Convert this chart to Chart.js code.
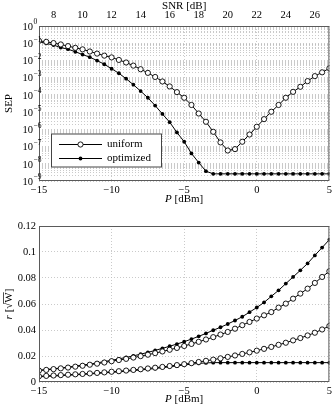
<!DOCTYPE html>
<html>
<head>
<meta charset="utf-8">
<script src="https://cdn.jsdelivr.net/npm/chart.js@4.4.0/dist/chart.umd.min.js"></script>
<style>
  html, body { margin: 0; padding: 0; background: #fff; }
  canvas { position: absolute; left: 0; }
  #top { top: 0; }
  #bottom { top: 205px; }
</style>
</head>
<body>
<canvas id="top" width="335" height="205"></canvas>
<canvas id="bottom" width="335" height="199"></canvas>
<script>
// Transmit power P [dBm], one point every 0.5 dB
const powerDbm = [-15, -14.5, -14, -13.5, -13, -12.5, -12, -11.5, -11, -10.5, -10, -9.5, -9, -8.5, -8, -7.5, -7, -6.5, -6, -5.5,
    -5, -4.5, -4, -3.5, -3, -2.5, -2, -1.5, -1, -0.5, 0, 0.5, 1, 1.5, 2, 2.5, 3, 3.5, 4, 4.5, 5];

// SNR axis on top = P + offset
const snrOffset = 22;
const snrTicks = [8, 10, 12, 14, 16, 18, 20, 22, 24, 26];

// Symbol error probability
const sepUniform = [1.38e-1, 1.20e-1, 1.02e-1, 8.5e-2, 6.8e-2, 5.4e-2, 4.4e-2, 3.3e-2, 2.5e-2, 1.9e-2,
    1.5e-2, 1.07e-2, 7.6e-3, 5.0e-3, 3.1e-3, 1.9e-3, 1.1e-3, 6.0e-4, 3.1e-4, 1.45e-4,
    6.8e-5, 2.6e-5, 8.3e-6, 2.75e-6, 7.2e-7, 1.74e-7, 5.9e-8, 7.1e-8, 1.9e-7, 5.0e-7,
    1.41e-6, 3.9e-6, 1.05e-5, 2.6e-5, 6.8e-5, 1.5e-4, 2.95e-4, 6.3e-4, 1.23e-3, 2.04e-3, 3.5e-3];
const sepOptimized = [1.20e-1, 9.8e-2, 7.8e-2, 5.6e-2, 4.5e-2, 3.2e-2, 2.2e-2, 1.55e-2, 9.8e-3, 6.0e-3,
    3.3e-3, 1.8e-3, 8.7e-4, 3.9e-4, 1.66e-4, 6.8e-5, 2.4e-5, 7.8e-6, 2.6e-6, 6.6e-7,
    1.9e-7, 4.0e-8, 1.17e-8, 3.7e-9, 2.6e-9, 2.6e-9, 2.6e-9, 2.6e-9, 2.6e-9, 2.6e-9,
    2.6e-9, 2.6e-9, 2.6e-9, 2.6e-9, 2.6e-9, 2.6e-9, 2.6e-9, 2.6e-9, 2.6e-9, 2.6e-9, 2.6e-9];

// Amplitude levels r [sqrt(W)]
const rUniformHigh = [0.0088, 0.0093, 0.0099, 0.0105, 0.0111, 0.0118, 0.0125, 0.0133, 0.0141, 0.0150,
    0.0160, 0.0169, 0.0178, 0.0188, 0.0199, 0.0210, 0.0222, 0.0235, 0.0248, 0.0262,
    0.0277, 0.0293, 0.0309, 0.0327, 0.0345, 0.0365, 0.0385, 0.0410, 0.0437, 0.0462,
    0.0488, 0.0513, 0.0538, 0.0572, 0.0603, 0.0641, 0.0680, 0.0718, 0.0762, 0.0808, 0.0852];
const rUniformLow = [0.0044, 0.0047, 0.0050, 0.0053, 0.0056, 0.0059, 0.0062, 0.0066, 0.0070, 0.0074,
    0.0079, 0.0083, 0.0088, 0.0093, 0.0098, 0.0104, 0.0110, 0.0116, 0.0123, 0.0130,
    0.0137, 0.0145, 0.0154, 0.0163, 0.0172, 0.0182, 0.0193, 0.0204, 0.0216, 0.0228,
    0.0241, 0.0255, 0.0270, 0.0286, 0.0302, 0.0320, 0.0338, 0.0358, 0.0379, 0.0404, 0.0431];
const rOptHigh = [0.0090, 0.0096, 0.0102, 0.0108, 0.0115, 0.0122, 0.0130, 0.0138, 0.0147, 0.0157,
    0.0167, 0.0178, 0.0189, 0.0201, 0.0214, 0.0228, 0.0243, 0.0259, 0.0275, 0.0292,
    0.0310, 0.0330, 0.0351, 0.0374, 0.0398, 0.0421, 0.0446, 0.0473, 0.0502, 0.0537,
    0.0573, 0.0612, 0.0659, 0.0705, 0.0757, 0.0808, 0.0859, 0.0912, 0.0974, 0.1034, 0.1095];
const rOptLow = [0.0040, 0.0043, 0.0046, 0.0049, 0.0052, 0.0055, 0.0058, 0.0062, 0.0066, 0.0070,
    0.0074, 0.0078, 0.0083, 0.0088, 0.0093, 0.0098, 0.0104, 0.0110, 0.0117, 0.0124,
    0.0131, 0.0137, 0.0143, 0.0147, 0.0149, 0.0149, 0.0149, 0.0149, 0.0149, 0.0149,
    0.0149, 0.0149, 0.0149, 0.0149, 0.0149, 0.0149, 0.0149, 0.0149, 0.0149, 0.0149, 0.0149];

const rTicks = [0, 0.02, 0.04, 0.06, 0.08, 0.1, 0.12];
const sepDecades = [-9, -8, -7, -6, -5, -4, -3, -2, -1, 0];

const FONT = "'Liberation Serif', 'DejaVu Serif', serif";
const GRID = '#bdbdbd';
Chart.defaults.font.family = FONT;
Chart.defaults.font.size = 10.5;
Chart.defaults.color = '#000';

const toPoints = ys => powerDbm.map((p, i) => ({ x: p, y: ys[i] }));
const dashNum = v => (v < 0 ? '\u2212' + Math.abs(v) : '' + v);

function uniformStyle(label, ys) {
    return {
        label: label, data: toPoints(ys),
        borderColor: '#000', borderWidth: 1, tension: 0,
        pointRadius: 2.6, pointBorderWidth: 0.9,
        pointBackgroundColor: '#fff', pointBorderColor: '#000'
    };
}
function optimizedStyle(label, ys) {
    return {
        label: label, data: toPoints(ys),
        borderColor: '#000', borderWidth: 1, tension: 0,
        pointRadius: 1.9, pointBorderWidth: 0,
        pointBackgroundColor: '#000', pointBorderColor: '#000'
    };
}

function drawFrame(chart) {
    const a = chart.chartArea;
    const ctx = chart.ctx;
    ctx.save();
    ctx.strokeStyle = '#5a5a5a';
    ctx.lineWidth = 1;
    ctx.strokeRect(a.left + 0.5, a.top + 0.5, a.right - a.left - 1, a.bottom - a.top - 1);
    ctx.restore();
}

// "P [dBm]" under the plot, with italic P
function drawPowerTitle(chart, y) {
    const ctx = chart.ctx;
    const a = chart.chartArea;
    ctx.save();
    ctx.fillStyle = '#000';
    ctx.textBaseline = 'middle';
    ctx.font = 'italic 11px ' + FONT;
    const wP = ctx.measureText('P').width;
    ctx.font = '11px ' + FONT;
    const rest = ' [dBm]';
    const wR = ctx.measureText(rest).width;
    const x0 = (a.left + a.right) / 2 - (wP + wR) / 2;
    ctx.font = 'italic 11px ' + FONT;
    ctx.fillText('P', x0, y);
    ctx.font = '11px ' + FONT;
    ctx.fillText(rest, x0 + wP, y);
    ctx.restore();
}

const topDecor = {
    id: 'topDecor',
    afterDraw(chart) {
        const ctx = chart.ctx;
        const a = chart.chartArea;
        const ys = chart.scales.y;
        drawFrame(chart);

        // 10^k labels
        ctx.save();
        ctx.fillStyle = '#000';
        sepDecades.forEach(k => {
            const py = ys.getPixelForValue(Math.pow(10, k));
            ctx.font = '10.5px ' + FONT;
            ctx.textAlign = 'right';
            ctx.textBaseline = 'middle';
            ctx.fillText('10', 33, py + 1);
            ctx.font = '7.5px ' + FONT;
            ctx.textAlign = 'left';
            ctx.fillText(k === 0 ? '0' : '\u2212' + (-k), 33.5, py - 3.5);
        });

        // y title
        ctx.translate(9, (a.top + a.bottom) / 2);
        ctx.rotate(-Math.PI / 2);
        ctx.font = '11px ' + FONT;
        ctx.textAlign = 'center';
        ctx.textBaseline = 'middle';
        ctx.fillText('SEP', 0, 0);
        ctx.restore();

        drawPowerTitle(chart, 199);

        // legend box
        const bx = 51, by = 133.5, bw = 111, bh = 34;
        ctx.save();
        ctx.fillStyle = '#fff';
        ctx.fillRect(bx, by, bw, bh);
        ctx.strokeStyle = '#444';
        ctx.lineWidth = 1;
        ctx.strokeRect(bx + 0.5, by + 0.5, bw - 1, bh - 1);
        chart.data.datasets.forEach((ds, i) => {
            const ly = by + 11 + i * 14;
            ctx.strokeStyle = ds.borderColor;
            ctx.lineWidth = ds.borderWidth;
            ctx.beginPath();
            ctx.moveTo(59, ly);
            ctx.lineTo(102, ly);
            ctx.stroke();
            ctx.beginPath();
            ctx.arc(80.5, ly, ds.pointRadius, 0, Math.PI * 2);
            ctx.fillStyle = ds.pointBackgroundColor;
            ctx.fill();
            if (ds.pointBorderWidth > 0) {
                ctx.lineWidth = ds.pointBorderWidth;
                ctx.strokeStyle = ds.pointBorderColor;
                ctx.stroke();
            }
            ctx.fillStyle = '#000';
            ctx.font = '11px ' + FONT;
            ctx.textAlign = 'left';
            ctx.textBaseline = 'middle';
            ctx.fillText(ds.label, 107, ly);
        });
        ctx.restore();
    }
};

const bottomDecor = {
    id: 'bottomDecor',
    afterDraw(chart) {
        const ctx = chart.ctx;
        const a = chart.chartArea;
        drawFrame(chart);
        drawPowerTitle(chart, 194);

        // y title: r [sqrt(W)], rotated
        ctx.save();
        ctx.translate(9, (a.top + a.bottom) / 2);
        ctx.rotate(-Math.PI / 2);
        ctx.fillStyle = '#000';
        ctx.strokeStyle = '#000';
        ctx.textBaseline = 'middle';
        ctx.textAlign = 'left';
        const parts = [['italic 11px ', 'r'], ['11px ', ' ['], ['11px ', '\u221A'], ['11px ', 'W'], ['11px ', ']']];
        const widths = parts.map(p => { ctx.font = p[0] + FONT; return ctx.measureText(p[1]).width; });
        let x = -widths.reduce((s, w) => s + w, 0) / 2;
        parts.forEach((p, i) => {
            ctx.font = p[0] + FONT;
            ctx.fillText(p[1], x, 0);
            if (p[1] === 'W') {
                ctx.lineWidth = 0.7;
                ctx.beginPath();
                ctx.moveTo(x - 1, -5.5);
                ctx.lineTo(x + widths[i], -5.5);
                ctx.stroke();
            }
            x += widths[i];
        });
        ctx.restore();
    }
};

new Chart(document.getElementById('top'), {
    type: 'line',
    data: {
        datasets: [uniformStyle('uniform', sepUniform), optimizedStyle('optimized', sepOptimized)]
    },
    options: {
        responsive: false,
        animation: false,
        layout: { padding: { left: 0, right: 3, top: 0, bottom: 0 } },
        plugins: { legend: { display: false }, tooltip: { enabled: false } },
        scales: {
            x: {
                type: 'linear', min: -15, max: 5,
                ticks: { stepSize: 5, padding: 3, callback: v => dashNum(v) },
                grid: { color: GRID, lineWidth: 0.8, drawTicks: false },
                border: { display: false, dash: [1, 2] },
                afterFit: s => { s.height = 24; }
            },
            x2: {
                type: 'linear', position: 'top',
                min: -15 + snrOffset, max: 5 + snrOffset,
                afterBuildTicks: s => { s.ticks = snrTicks.map(v => ({ value: v })); },
                ticks: { padding: 4, autoSkip: false, callback: v => '' + v },
                grid: { display: false, drawTicks: false },
                border: { display: false },
                title: { display: true, text: 'SNR [dB]', font: { size: 11 }, padding: { top: 0, bottom: 0 } },
                afterFit: s => { s.height = 26; }
            },
            y: {
                type: 'logarithmic', min: 1e-9, max: 1,
                afterBuildTicks: s => {
                    const t = [];
                    sepDecades.forEach(k => {
                        const top = k === 0 ? 1 : 9;
                        for (let m = 1; m <= top; m++) t.push({ value: m * Math.pow(10, k), major: m === 1 });
                    });
                    s.ticks = t;
                },
                ticks: { autoSkip: false, callback: () => '' },
                grid: { color: GRID, lineWidth: 0.8, drawTicks: false },
                border: { display: false, dash: [1, 2] },
                afterFit: s => { s.width = 39; }
            }
        }
    },
    plugins: [topDecor]
});

new Chart(document.getElementById('bottom'), {
    type: 'line',
    data: {
        datasets: [
            uniformStyle('uniform', rUniformLow),
            optimizedStyle('optimized', rOptLow),
            uniformStyle('uniform', rUniformHigh),
            optimizedStyle('optimized', rOptHigh)
        ]
    },
    options: {
        responsive: false,
        animation: false,
        layout: { padding: { left: 0, right: 3, top: 21, bottom: 0 } },
        plugins: { legend: { display: false }, tooltip: { enabled: false } },
        scales: {
            x: {
                type: 'linear', min: -15, max: 5,
                ticks: { stepSize: 5, padding: 3, callback: v => dashNum(v) },
                grid: { color: GRID, lineWidth: 0.8, drawTicks: false },
                border: { display: false, dash: [1, 2] },
                afterFit: s => { s.height = 22; }
            },
            y: {
                type: 'linear', min: 0, max: 0.12,
                afterBuildTicks: s => { s.ticks = rTicks.map(v => ({ value: v })); },
                ticks: { padding: 3, autoSkip: false, callback: v => '' + (+v.toFixed(2)) },
                grid: { color: GRID, lineWidth: 0.8, drawTicks: false },
                border: { display: false, dash: [1, 2] },
                afterFit: s => { s.width = 39; }
            }
        }
    },
    plugins: [bottomDecor]
});
</script>
</body>
</html>
